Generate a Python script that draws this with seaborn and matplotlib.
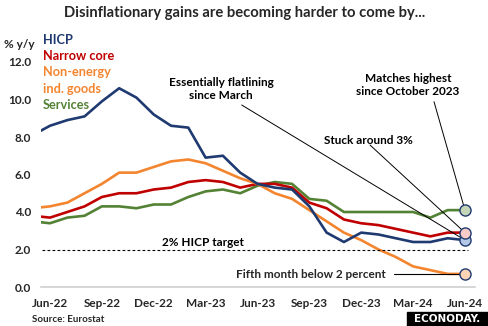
import numpy as np
import pandas as pd
import matplotlib
matplotlib.use("Agg")
import matplotlib.pyplot as plt
import seaborn as sns

months = ["May-22", "Jun-22", "Jul-22", "Aug-22", "Sep-22", "Oct-22", "Nov-22", "Dec-22",
          "Jan-23", "Feb-23", "Mar-23", "Apr-23", "May-23", "Jun-23", "Jul-23", "Aug-23",
          "Sep-23", "Oct-23", "Nov-23", "Dec-23", "Jan-24", "Feb-24", "Mar-24", "Apr-24",
          "May-24", "Jun-24"]
hicp = [8.1, 8.6, 8.9, 9.1, 9.9, 10.6, 10.1, 9.2, 8.6, 8.5, 6.9, 7.0, 6.1, 5.5, 5.3, 5.2,
        4.3, 2.9, 2.4, 2.9, 2.8, 2.6, 2.4, 2.4, 2.6, 2.5]
narrow_core = [3.8, 3.7, 4.0, 4.3, 4.8, 5.0, 5.0, 5.2, 5.3, 5.6, 5.7, 5.6, 5.3, 5.5, 5.5, 5.3,
               4.5, 4.2, 3.6, 3.4, 3.3, 3.1, 2.9, 2.7, 2.9, 2.9]
neig = [4.2, 4.3, 4.5, 5.0, 5.5, 6.1, 6.1, 6.4, 6.7, 6.8, 6.6, 6.2, 5.8, 5.5, 5.0, 4.7,
        4.1, 3.5, 2.9, 2.5, 2.0, 1.6, 1.1, 0.9, 0.7, 0.7]
services = [3.5, 3.4, 3.7, 3.8, 4.3, 4.3, 4.2, 4.4, 4.4, 4.8, 5.1, 5.2, 5.0, 5.4, 5.6, 5.5,
            4.7, 4.6, 4.0, 4.0, 4.0, 4.0, 4.0, 3.7, 4.1, 4.1]
series_names = ["HICP", "Narrow core", "Non-energy\nind. goods", "Services"]
tick_labels = ["Jun-22", "Sep-22", "Dec-22", "Mar-23", "Jun-23", "Sep-23", "Dec-23", "Mar-24", "Jun-24"]
y_ticks = [0, 2, 4, 6, 8, 10, 12]
target = 2.0

colors = ["#1F3A70", "#C00000", "#F4852F", "#548235"]
fills = ["#B4C7E7", "#F8CBC8", "#FBD5B5", "#C5D5B8"]

idx = np.arange(len(months))
frames = []
for name, vals in zip(series_names, [hicp, narrow_core, neig, services]):
    frames.append(pd.DataFrame({"idx": idx, "value": vals, "series": name}))
df = pd.concat(frames, ignore_index=True)

sns.set_style("white")
plt.rcParams["font.family"] = ["Lato", "DejaVu Sans"]

fig = plt.figure(figsize=(4.89, 3.26), dpi=100)
ax = fig.add_axes([41 / 489, 1 - 287 / 326, (475 - 41) / 489, (287 - 62) / 326])

order = [3, 1, 2, 0]
for i in order:
    sub = df[df["series"] == series_names[i]]
    sns.lineplot(data=sub, x="idx", y="value", color=colors[i], lw=1.9, ax=ax,
                 legend=False, clip_on=True)

ax.set_xlim(0.48, 25.58)
ax.set_ylim(0, 12)
ax.axhline(target, color="black", lw=0.8, ls=(0, (2.5, 2)), xmin=-0.01, xmax=0.985)

last = len(months) - 1
for vals, fc in zip([hicp, narrow_core, neig, services], fills):
    ax.plot([last], [vals[-1]], marker="o", ms=8, mfc=fc, mec="#1F3A70", mew=1.0,
            clip_on=False, zorder=5)

for s in ["top", "right", "left"]:
    ax.spines[s].set_visible(False)
ax.spines["bottom"].set_color("#D0D0D0")
ax.spines["bottom"].set_linewidth(1.2)

ax.set_xticks(idx[1::3])
ax.set_xticklabels(tick_labels, fontsize=8.5, fontweight="bold")
ax.set_yticks(y_ticks)
ax.set_yticklabels([f"{v:.1f}" for v in y_ticks], fontsize=8.5, fontweight="bold")
ax.tick_params(axis="both", length=0, pad=7)
ax.tick_params(axis="x", pad=8)
ax.set_xlabel("")
ax.set_ylabel("")

fig.text(0.5, 1 - 13 / 326, "Disinflationary gains are becoming harder to come by...",
         ha="center", va="center", fontsize=10.6, fontweight="bold")
fig.text(4 / 489, 1 - 45 / 326, "% y/y", ha="left", va="center", fontsize=8.5, fontweight="bold")
fig.text(32 / 489, 1 - 320 / 326, "Source: Eurostat", ha="left", va="center", fontsize=7,
         fontweight="bold")

leg_y = [40, 56, 72, 89, 105]
leg_txt = ["HICP", "Narrow core", "Non-energy", "ind. goods", "Services"]
leg_col = [colors[0], colors[1], colors[2], colors[2], colors[3]]
for t, yy, c in zip(leg_txt, leg_y, leg_col):
    fig.text(43 / 489, 1 - yy / 326, t, ha="left", va="center", fontsize=9.2, fontweight="bold",
             color=c)

def px(x, y):
    return (x / 489, 1 - y / 326)

ann_kw = dict(fontsize=8.5, fontweight="bold", ha="center", va="center", color="black")
fig.text(*px(221, 89), "Essentially flatlining\nsince March", linespacing=1.15, **ann_kw)
fig.text(*px(408, 85), "Matches highest\nsince October 2023", linespacing=1.15, **ann_kw)
fig.text(*px(368, 140), "Stuck around 3%", **ann_kw)
fig.text(*px(203, 243), "2% HICP target", **ann_kw)
fig.text(*px(386, 275), "Fifth month below 2 percent", fontsize=8.5, fontweight="bold",
         ha="right", va="center")

def to_data(xp, yp):
    disp = fig.transFigure.transform(px(xp, yp))
    return ax.transData.inverted().transform(disp)

leaders = [((241.7, 105), hicp[-1]), ((370, 145), narrow_core[-1]),
           ((434, 101.7), services[-1])]
for (sx, sy), v in leaders:
    x0, y0 = to_data(sx, sy)
    ax.plot([x0, last], [y0, v], color="black", lw=0.7, clip_on=False, zorder=4)
x0, y0 = to_data(394, 275)
ax.plot([x0, last], [neig[-1], neig[-1]], color="black", lw=0.8, clip_on=False, zorder=4)

fig.patches.append(plt.Rectangle(px(407, 326), 82 / 489, 14.5 / 326, transform=fig.transFigure,
                                 color="black", zorder=1))
fig.text(*px(447, 319), "ECONODAY.", ha="center", va="center", color="white",
         fontsize=7.5, fontweight="bold", family="DejaVu Sans")

fig.savefig("out.png", dpi=100)
